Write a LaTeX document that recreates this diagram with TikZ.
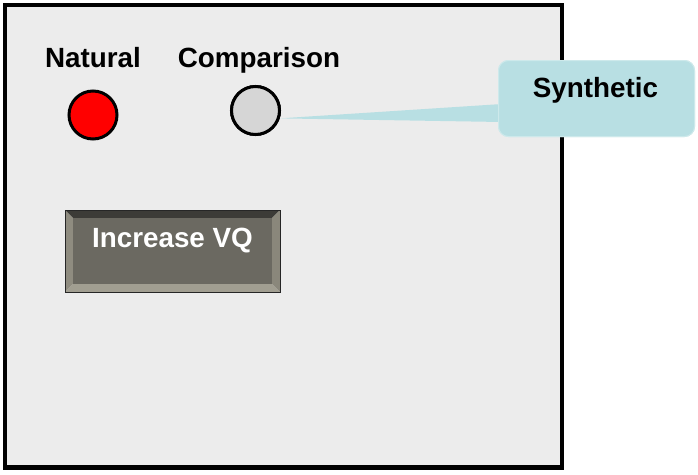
\documentclass[tikz,border=0pt]{standalone}
\usepackage{fontspec}
\setmainfont{Liberation Sans}
\usetikzlibrary{calc}
\definecolor{panelbg}{HTML}{ECECEC}
\definecolor{callout}{HTML}{B8DFE3}
\definecolor{lampgray}{HTML}{D6D6D6}
\definecolor{btnface}{HTML}{6B6961}
\definecolor{btntop}{HTML}{3C3B37}
\definecolor{btnleft}{HTML}{8F8C80}
\definecolor{btnright}{HTML}{8A877B}
\definecolor{btnbottom}{HTML}{A19E91}
\tikzset{
  lbl/.style={font=\fontsize{27.8}{32}\selectfont\bfseries, inner sep=0pt, anchor=base},
  lamp/.style={circle, draw=black, line width=3pt, minimum size=48pt, inner sep=0pt},
  calloutbox/.style={fill=callout, draw=callout!70!white, line width=1pt, rounded corners=10pt, minimum width=196pt, minimum height=76pt, inner sep=0pt},
}
\begin{document}
\begin{tikzpicture}[x=1pt,y=-1pt]
\useasboundingbox (0,0) rectangle (698,474);
\fill[white] (0,0) rectangle (698,474);
% panel
\draw[fill=panelbg, line width=4.5pt] (5,5) rectangle (562,467.5);
% labels
\node[lbl] (natlbl) at (93,67) {Natural};
\node[lbl] (cmplbl) at (259,67) {Comparison};
% comparison lamp and callout with wedge pointer
\node[lamp, fill=lampgray] (cmp) at (255.5,110.5) {};
\node[calloutbox] (syn) at (596.5,98.5) {};
\coordinate (wtop) at ($(syn.west)+(4,5.5)$);
\coordinate (wbot) at ($(syn.west)+(4,23.5)$);
\fill[callout] (cmp.-18) -- (wtop) -- (wbot) -- cycle;
\node[lamp, fill=lampgray] at (cmp) {};
\node[calloutbox] at (syn) {};
\node[lbl] (synlbl) at (595.5,97) {Synthetic};
% natural lamp
\node[lamp, fill=red] (nat) at (93,115) {};
% button
\coordinate (bA) at (65,210);
\coordinate (bB) at (280,292);
\coordinate (iA) at (73,218);
\coordinate (iB) at (272,284);
\fill[btntop] (65,210) -- (280,210) -- (272,218) -- (73,218) -- cycle;
\fill[btnleft] (65,210) -- (73,218) -- (73,284) -- (65,292) -- cycle;
\fill[btnright] (280,210) -- (272,218) -- (272,284) -- (280,292) -- cycle;
\fill[btnbottom] (65,292) -- (73,284) -- (272,284) -- (280,292) -- cycle;
\fill[btnface] (iA) rectangle (iB);
\draw[black!85, line width=1pt] (bA) rectangle (bB);
\node[lbl, text=white] (btn) at (172.5,247) {Increase VQ};
\end{tikzpicture}
\end{document}
